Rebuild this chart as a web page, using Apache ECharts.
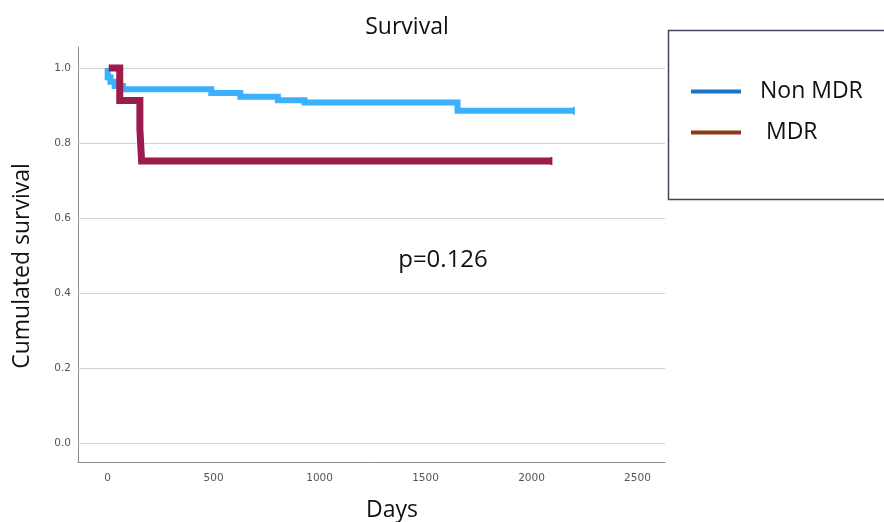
<!DOCTYPE html>
<html>
<head>
<meta charset="utf-8">
<script src="https://cdn.jsdelivr.net/npm/echarts@6/dist/echarts.min.js"></script>
<style>
html, body { margin: 0; padding: 0; background: #fff; }
#main { width: 884px; height: 522px; }
</style>
</head>
<body>
<div id="main"></div>
<script>
// Kaplan-Meier steps (days, cumulated survival)
var nonMdrDays = [0, 0, 13, 33, 72, 489, 626, 803, 929, 1651, 2200];
var nonMdrSurv = [1.0, 0.975, 0.963, 0.952, 0.943, 0.933, 0.923, 0.914, 0.908, 0.886, 0.886];
var mdrDays = [5, 57, 152, 160, 2094];
var mdrSurv = [1.0, 0.913, 0.838, 0.752, 0.752];

var xTicks = [0, 500, 1000, 1500, 2000, 2500];
var yTicks = [0, 0.2, 0.4, 0.6, 0.8, 1.0];

var seriesNames = ['Non MDR', 'MDR'];

function pairs(xs, ys) {
    var out = [];
    for (var i = 0; i < xs.length; i++) {
        var p = { value: [xs[i], ys[i]] };
        if (i == xs.length - 1) {
            // censor mark at the end of the curve
            p.symbol = 'rect';
            p.symbolSize = [2, 8];
        }
        out.push(p);
    }
    return out;
}

var myChart = echarts.init(document.getElementById('main'));
var font = '"Open Sans", "Noto Sans", sans-serif';

var option = {
    backgroundColor: '#fff',
    animation: false,
    grid: { left: 78, right: 219, top: 47, bottom: 60 },
    xAxis: {
        type: 'value',
        min: -140,
        max: 2630,
        splitLine: { show: false },
        axisLine: { show: true, onZero: false, lineStyle: { color: '#8a8a8a', width: 1 } },
        axisTick: { show: false },
        axisLabel: {
            customValues: xTicks,
            formatter: function (v) { return String(v); },
            color: '#555',
            fontSize: 10.5,
            fontFamily: 'DejaVu Sans',
            margin: 11
        }
    },
    yAxis: {
        type: 'value',
        min: -0.051,
        max: 1.056,
        splitLine: { show: false },
        axisLine: { show: true, onZero: false, lineStyle: { color: '#8a8a8a', width: 1 } },
        axisTick: { show: false },
        axisLabel: {
            customValues: yTicks,
            formatter: function (v) { return v.toFixed(1); },
            color: '#555',
            fontSize: 10.5,
            fontFamily: 'DejaVu Sans',
            margin: 7
        }
    },
    legend: {
        orient: 'vertical',
        left: 686,
        top: 75,
        itemWidth: 50,
        itemHeight: 4,
        itemGap: 18,
        icon: 'rect',
        textStyle: { fontSize: 23, fontFamily: font, color: '#111', padding: [0, 0, 0, 14] },
        formatter: function (n) { return n == 'MDR' ? ' MDR' : n; },
        data: [
            { name: 'Non MDR', itemStyle: { color: '#1a72c6' } },
            { name: 'MDR', itemStyle: { color: '#8a3a12' } }
        ]
    },
    graphic: [
        {
            type: 'rect',
            shape: { x: 668.5, y: 30.5, width: 240, height: 169 },
            style: { fill: 'none', stroke: '#3e4858', lineWidth: 1.5 },
            z: 0
        },
        {
            type: 'text',
            x: 407, y: 27,
            style: { text: 'Survival', font: '23px ' + font, fill: '#111', textAlign: 'center', textVerticalAlign: 'middle' }
        },
        {
            type: 'text',
            x: 392, y: 510,
            style: { text: 'Days', font: '23px ' + font, fill: '#111', textAlign: 'center', textVerticalAlign: 'middle' }
        },
        {
            type: 'text',
            x: 22, y: 266,
            rotation: Math.PI / 2,
            style: { text: 'Cumulated survival', font: '23px ' + font, fill: '#111', textAlign: 'center', textVerticalAlign: 'middle' }
        },
        {
            type: 'text',
            x: 443, y: 260,
            style: { text: 'p=0.126', font: '24px ' + font, fill: '#111', textAlign: 'center', textVerticalAlign: 'middle' }
        }
    ],
    series: [
        {
            name: seriesNames[0],
            type: 'line',
            step: 'end',
            symbol: 'none',
            showSymbol: true,
            color: '#3cb0fb',
            lineStyle: { color: '#3cb0fb', width: 6, cap: 'butt', join: 'miter' },
            itemStyle: { color: '#3cb0fb' },
            data: pairs(nonMdrDays, nonMdrSurv),
            z: 3,
            markLine: {
                silent: true,
                symbol: 'none',
                label: { show: false },
                lineStyle: { color: '#d2d2d2', width: 1, type: 'solid' },
                data: yTicks.map(function (v) { return { yAxis: v }; }),
                z: 1
            }
        },
        {
            name: seriesNames[1],
            type: 'line',
            step: 'end',
            symbol: 'none',
            showSymbol: true,
            color: '#9c1a4c',
            lineStyle: { color: '#9c1a4c', width: 7, cap: 'butt', join: 'miter' },
            itemStyle: { color: '#9c1a4c' },
            data: pairs(mdrDays, mdrSurv),
            z: 4
        }
    ]
};

myChart.setOption(option);
</script>
</body>
</html>
